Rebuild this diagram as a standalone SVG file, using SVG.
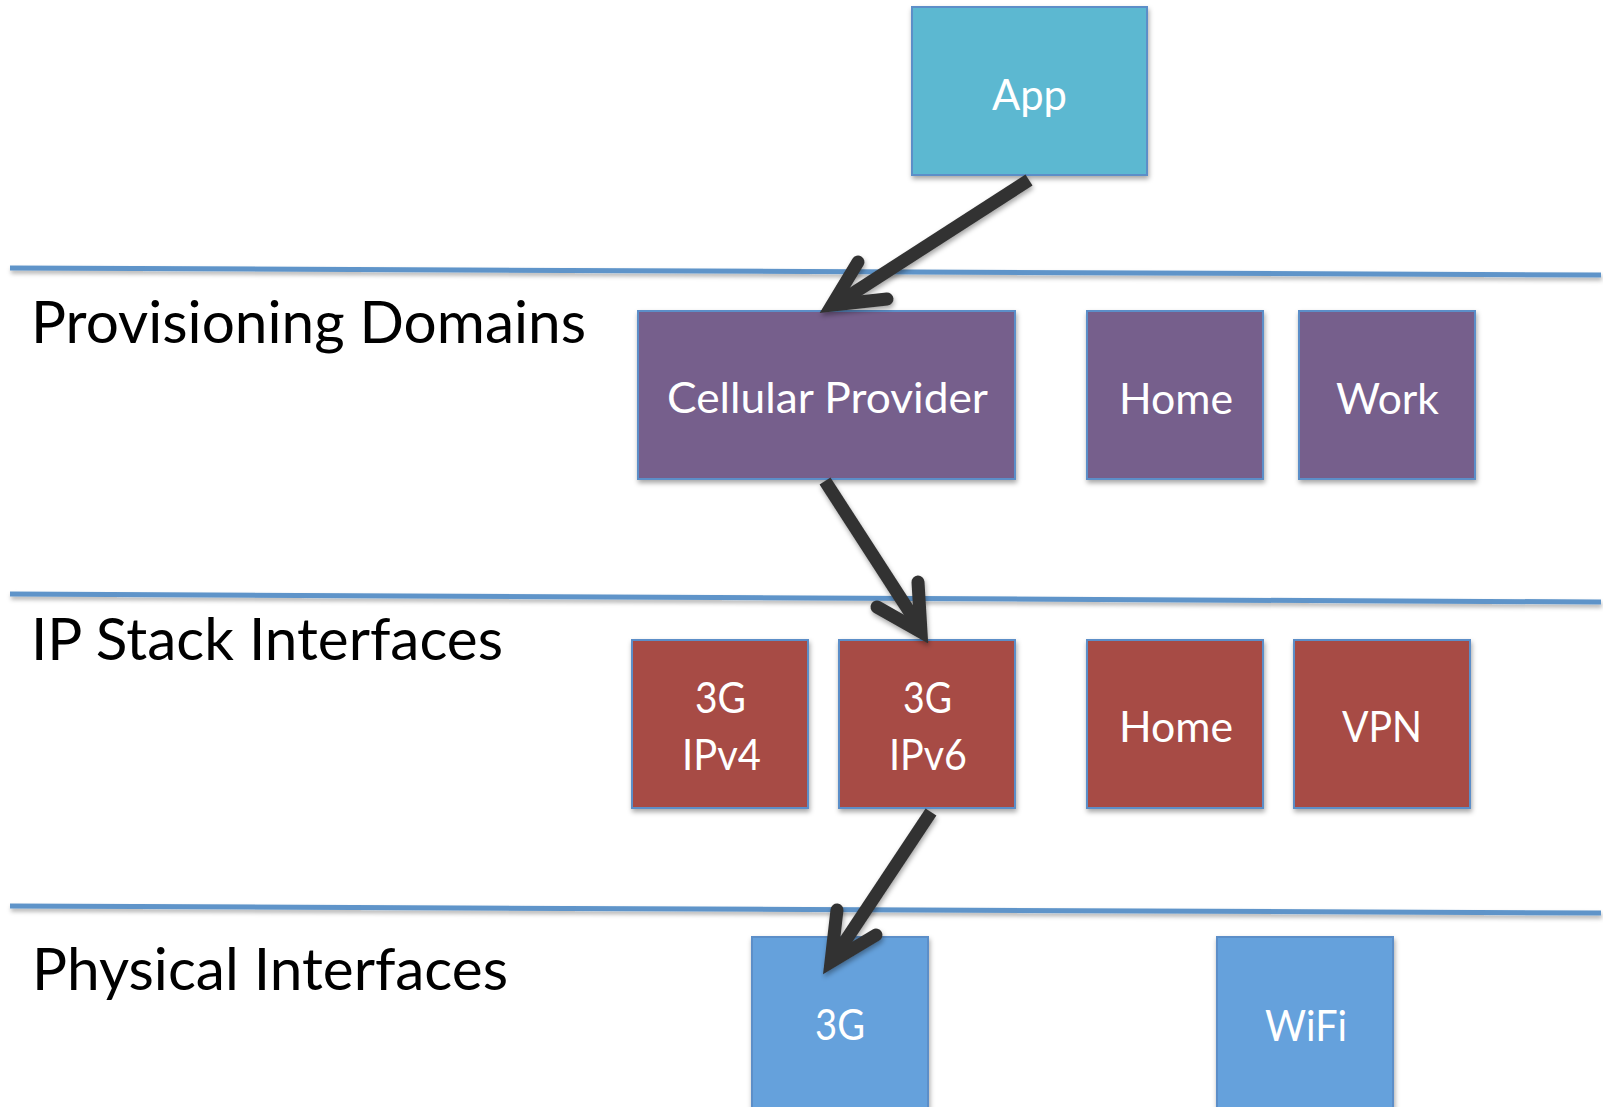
<svg xmlns="http://www.w3.org/2000/svg" width="1603" height="1107" viewBox="0 0 1603 1107">
<defs>
<filter id="sh" x="-10%" y="-10%" width="130%" height="140%">
<feDropShadow dx="1" dy="3" stdDeviation="2.5" flood-color="#000" flood-opacity="0.35"/>
</filter>
<filter id="lsh" x="-5%" y="-200%" width="110%" height="500%">
<feDropShadow dx="1" dy="3" stdDeviation="2" flood-color="#000" flood-opacity="0.3"/>
</filter>
<style>
.box{stroke:#5b8ec8;stroke-width:2;filter:url(#sh)}
.app{fill:#5bb8d1}
.pd{fill:#765f8c}
.ip{fill:#a74b45}
.ph{fill:#65a1dc}
.sep{stroke:#5e94c9;stroke-width:5;fill:none;filter:url(#lsh)}
.t{font-family:Lato,"Open Sans",sans-serif;font-size:42px;fill:#fff;text-anchor:middle}
.lbl{font-family:Lato,"Open Sans",sans-serif;font-size:58px;fill:#000}
.ar{stroke:#333;stroke-width:13;fill:none;filter:url(#sh)}
.head{stroke:#333;stroke-width:13;fill:none;stroke-linecap:round;stroke-linejoin:miter;stroke-miterlimit:10}
</style>
</defs>
<rect width="1603" height="1107" fill="#fff"/>
<g id="separators">
<line class="sep" x1="10" y1="268" x2="1601" y2="275"/>
<line class="sep" x1="10" y1="594" x2="1601" y2="602"/>
<line class="sep" x1="10" y1="906" x2="1601" y2="913"/>
</g>
<g id="layer-labels">
<text class="lbl" x="31" y="343" textLength="555" lengthAdjust="spacingAndGlyphs">Provisioning Domains</text>
<text class="lbl" x="31" y="660" textLength="472" lengthAdjust="spacingAndGlyphs">IP Stack Interfaces</text>
<text class="lbl" x="32" y="990" textLength="476" lengthAdjust="spacingAndGlyphs">Physical Interfaces</text>
</g>
<g id="node-app"><rect class="box app" x="912" y="7" width="235" height="168"/><text class="t" x="1029.5" y="110" textLength="75" lengthAdjust="spacingAndGlyphs">App</text></g>
<g id="node-cellular"><rect class="box pd" x="638" y="311" width="377" height="168"/><text class="t" x="827.5" y="413" textLength="321" lengthAdjust="spacingAndGlyphs">Cellular Provider</text></g>
<g id="node-home-pd"><rect class="box pd" x="1087" y="311" width="176" height="168"/><text class="t" x="1176" y="414" textLength="114" lengthAdjust="spacingAndGlyphs">Home</text></g>
<g id="node-work"><rect class="box pd" x="1299" y="311" width="176" height="168"/><text class="t" x="1387.5" y="414" textLength="103" lengthAdjust="spacingAndGlyphs">Work</text></g>
<g id="node-3g-ipv4"><rect class="box ip" x="632" y="640" width="176" height="168"/><text class="t" x="720.5" y="713" textLength="51" lengthAdjust="spacingAndGlyphs">3G</text><text class="t" x="721.5" y="770" textLength="79" lengthAdjust="spacingAndGlyphs">IPv4</text></g>
<g id="node-3g-ipv6"><rect class="box ip" x="839" y="640" width="176" height="168"/><text class="t" x="927.5" y="713" textLength="49" lengthAdjust="spacingAndGlyphs">3G</text><text class="t" x="928" y="770" textLength="78" lengthAdjust="spacingAndGlyphs">IPv6</text></g>
<g id="node-home-ip"><rect class="box ip" x="1087" y="640" width="176" height="168"/><text class="t" x="1176" y="742" textLength="114" lengthAdjust="spacingAndGlyphs">Home</text></g>
<g id="node-vpn"><rect class="box ip" x="1294" y="640" width="176" height="168"/><text class="t" x="1382" y="742" textLength="80" lengthAdjust="spacingAndGlyphs">VPN</text></g>
<g id="node-3g-phys"><rect class="box ph" x="752" y="937" width="176" height="180"/><text class="t" x="840" y="1040" textLength="50" lengthAdjust="spacingAndGlyphs">3G</text></g>
<g id="node-wifi"><rect class="box ph" x="1217" y="937" width="176" height="180"/><text class="t" x="1306" y="1041" textLength="82" lengthAdjust="spacingAndGlyphs">WiFi</text></g>
<g id="connectors">
<g class="ar"><line x1="1029" y1="180" x2="838" y2="303"/><path class="head" d="M858,262 L832,305 L887,299"/></g>
<g class="ar"><line x1="825" y1="481" x2="920" y2="628"/><path class="head" d="M918,582 L921,632 L877,607"/></g>
<g class="ar"><line x1="931" y1="812" x2="834" y2="958"/><path class="head" d="M837,910 L831,962 L876,935"/></g>
</g>
</svg>
